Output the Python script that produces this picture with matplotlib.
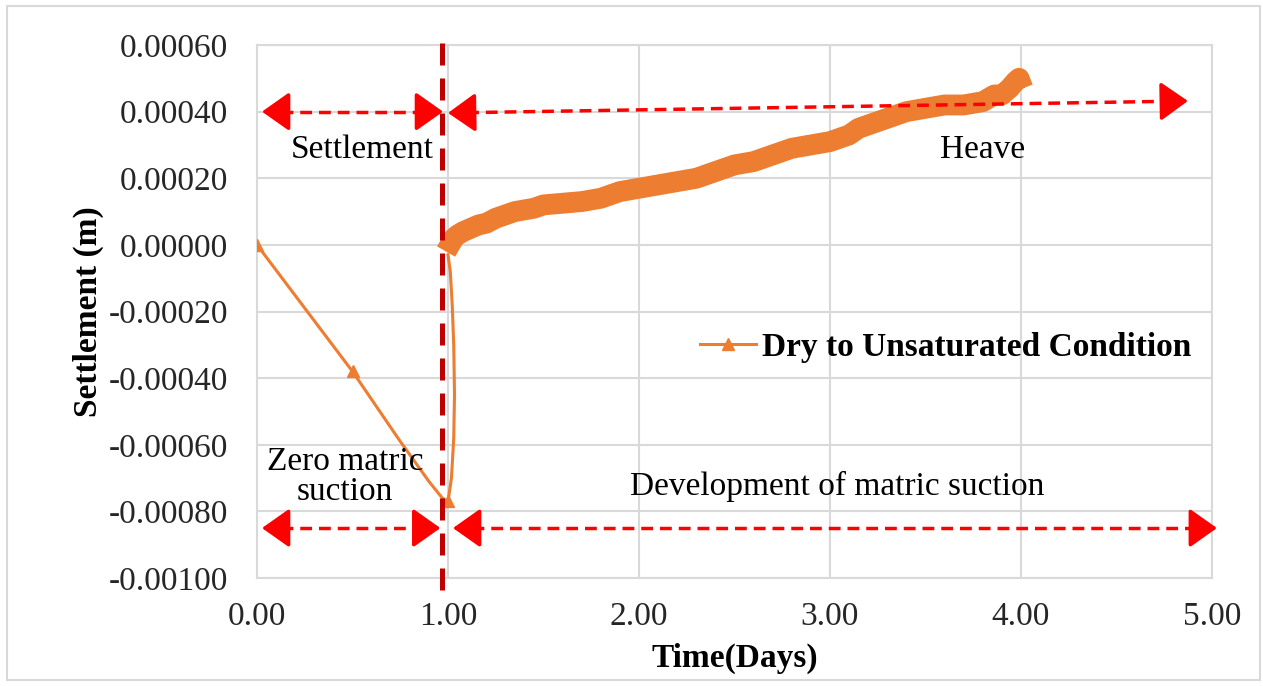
import matplotlib
matplotlib.use("Agg")
import numpy as np
import matplotlib.pyplot as plt
from matplotlib.lines import Line2D
from matplotlib.patches import Rectangle

plt.rcParams['font.family'] = ['Liberation Serif', 'DejaVu Serif']

# Early stage (thin line with markers at measured points)
early_days = [0.0, 0.25, 0.5, 0.75, 0.9, 0.97, 1.0, 1.018, 1.03, 1.034, 1.03, 1.022, 1.012, 1.0]
early_settle = [0.0, -0.00019, -0.00038, -0.00059, -0.00071, -0.00076, -0.00077,
                -0.00070, -0.00058, -0.00045, -0.00030, -0.00018, -0.00008, -0.00003]
marker_idx = [0, 2, 6]

# Dense readings after wetting (drawn as a thick band)
band_days = [0.99, 1.01, 1.03, 1.05, 1.08, 1.12, 1.16, 1.2, 1.25, 1.3, 1.35, 1.4, 1.45,
             1.5, 1.6, 1.7, 1.8, 1.9, 2.0, 2.1, 2.2, 2.3, 2.4, 2.5, 2.6, 2.7, 2.8, 2.9,
             3.0, 3.1, 3.15, 3.2, 3.3, 3.4, 3.5, 3.6, 3.7, 3.8, 3.86, 3.9, 3.94, 3.97,
             3.99, 4.01]
band_settle = [-0.00002, 0.0, 0.00002, 0.00003, 0.00004, 0.00005, 0.00006, 0.000065,
               0.00008, 0.00009, 0.00010, 0.000105, 0.00011, 0.00012, 0.000125, 0.00013,
               0.00014, 0.00016, 0.00017, 0.00018, 0.00019, 0.00020, 0.00022, 0.00024,
               0.00025, 0.00027, 0.00029, 0.00030, 0.00031, 0.00033, 0.00035, 0.00036,
               0.00038, 0.00040, 0.00041, 0.00042, 0.00042, 0.00043, 0.00045, 0.00045,
               0.00047, 0.00049, 0.00050, 0.00047]

x_ticks = [0, 1, 2, 3, 4, 5]
y_ticks = [-0.0010, -0.0008, -0.0006, -0.0004, -0.0002, 0.0, 0.0002, 0.0004, 0.0006]

ORANGE = '#ED7D31'
GRID = '#D9D9D9'
RED = '#FF0000'

fig = plt.figure(figsize=(12.63, 6.86), dpi=100)
ax = fig.add_axes([0.2035, 0.1574, 0.7561, 0.777])

ax.plot(early_days, early_settle, color=ORANGE, lw=2.2, marker='^', markersize=9,
        markevery=marker_idx, zorder=3)
ax.plot(band_days, band_settle, color=ORANGE, lw=15, solid_capstyle='butt',
        solid_joinstyle='round', zorder=3)

ax.set_xlim(0, 5)
ax.set_ylim(-0.0010, 0.0006)
ax.set_xticks(x_ticks)
ax.set_xticklabels([f"{v:.2f}" for v in x_ticks])
ax.set_yticks(y_ticks)
ax.set_yticklabels([f"{v:.5f}" for v in y_ticks])
ax.tick_params(axis='both', length=0, labelsize=24, colors='#262626')
ax.tick_params(axis='y', pad=21)
ax.tick_params(axis='x', pad=17)
ax.grid(True, color=GRID, lw=1.5, zorder=0)
ax.set_axisbelow(True)
for s in ax.spines.values():
    s.set_color(GRID)
    s.set_linewidth(1.5)

ax.set_xlabel('Time(Days)', fontsize=24, fontweight='bold', labelpad=8)
ax.set_ylabel('Settlement (m)', fontsize=24, fontweight='bold', labelpad=3)

# vertical divider at wetting
ax.plot([0.97, 0.97], [0.000605, -0.00105], color='#C00000', lw=3.6,
        linestyle=(0, (4.4, 2.6)), clip_on=False, zorder=4)

# double-headed dashed arrows: dashed shaft + solid heads
head_style = dict(arrowstyle='-|>,head_length=0.85,head_width=0.6', color=RED,
                  lw=2.5, mutation_scale=20, shrinkA=0, shrinkB=0)
arrows = [((0.026, 0.0004), (0.974, 0.0004)),
          ((1.0, 0.000396), (4.874, 0.000432)),
          ((0.026, -0.00085), (0.96, -0.00085)),
          ((1.026, -0.00085), (5.026, -0.00085))]
for start, end in arrows:
    start = np.array(start)
    end = np.array(end)
    d = end - start
    frac = 0.1 / d[0]
    inner_a = start + d * frac
    inner_b = end - d * frac
    ax.plot([inner_a[0], inner_b[0]], [inner_a[1], inner_b[1]], color=RED, lw=2.5,
            linestyle=(0, (3.4, 2.0)), clip_on=False, zorder=5)
    ax.annotate('', xy=tuple(end), xytext=tuple(inner_b), arrowprops=head_style,
                annotation_clip=False, zorder=5)
    ax.annotate('', xy=tuple(start), xytext=tuple(inner_a), arrowprops=head_style,
                annotation_clip=False, zorder=5)

ax.text(0.55, 0.000285, 'Settlement', fontsize=24, ha='center', va='center')
ax.text(3.8, 0.000285, 'Heave', fontsize=24, ha='center', va='center')
ax.text(0.46, -0.000696, 'Zero matric\nsuction', fontsize=24, ha='center', va='center',
        linespacing=1.0)
ax.text(3.04, -0.000726, 'Development of matric suction', fontsize=24,
        ha='center', va='center')

handle = Line2D([], [], color=ORANGE, lw=2.2, marker='^', markersize=9)
ax.legend([handle], ['Dry to Unsaturated Condition'], loc='center left',
          bbox_to_anchor=(0.464, 0.433), frameon=False, borderpad=0, borderaxespad=0,
          handlelength=1.67, handletextpad=0.2,
          prop={'size': 24, 'weight': 'bold'})

fig.patches.append(Rectangle((7 / 1263, 6 / 686), 1253 / 1263, 674 / 686,
                             transform=fig.transFigure, fill=False,
                             edgecolor=GRID, lw=1.5))

fig.savefig('out.png', dpi=100)
